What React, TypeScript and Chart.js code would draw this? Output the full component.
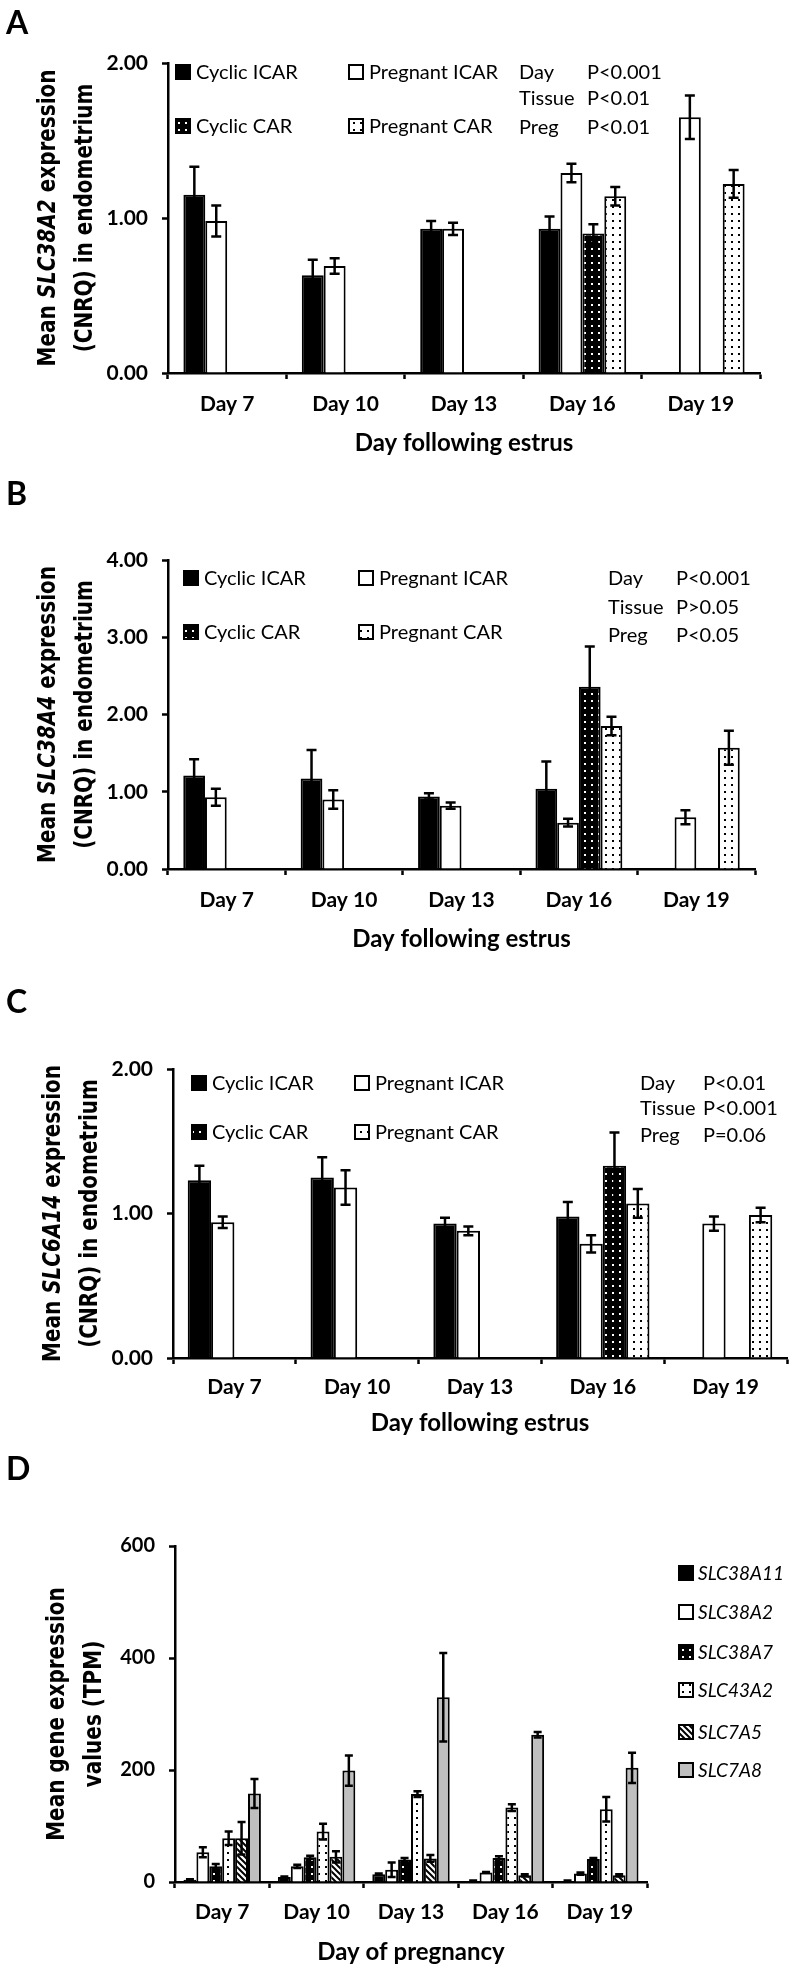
import React, { useEffect, useRef } from "react";
import { Chart, registerables } from "chart.js";
Chart.register(...registerables);

// ---------------- data ----------------
const days = ["Day 7", "Day 10", "Day 13", "Day 16", "Day 19"];
const groupLabels = ["Cyclic ICAR", "Pregnant ICAR", "Cyclic CAR", "Pregnant CAR"];
const statLabels = ["Day", "Tissue", "Preg"];

// Panel A: SLC38A2
const aCyclicICAR = [1.15, 0.63, 0.93, 0.93, null];
const aCyclicICARErr = [0.18, 0.1, 0.05, 0.08, null];
const aPregICAR = [0.98, 0.69, 0.93, 1.29, 1.65];
const aPregICARErr = [0.1, 0.05, 0.04, 0.06, 0.14];
const aCyclicCAR = [null, null, null, 0.9, null];
const aCyclicCARErr = [null, null, null, 0.06, null];
const aPregCAR = [null, null, null, 1.14, 1.22];
const aPregCARErr = [null, null, null, 0.06, 0.09];
const aStats = ["P<0.001", "P<0.01", "P<0.01"];
const aTicks = [0, 1, 2];

// Panel B: SLC38A4
const bCyclicICAR = [1.21, 1.17, 0.94, 1.04, null];
const bCyclicICARErr = [0.21, 0.37, 0.04, 0.35, null];
const bPregICAR = [0.93, 0.9, 0.82, 0.6, 0.67];
const bPregICARErr = [0.11, 0.12, 0.04, 0.05, 0.09];
const bCyclicCAR = [null, null, null, 2.36, null];
const bCyclicCARErr = [null, null, null, 0.52, null];
const bPregCAR = [null, null, null, 1.85, 1.57];
const bPregCARErr = [null, null, null, 0.12, 0.22];
const bStats = ["P<0.001", "P>0.05", "P<0.05"];
const bTicks = [0, 1, 2, 3, 4];

// Panel C: SLC6A14
const cCyclicICAR = [1.23, 1.25, 0.93, 0.98, null];
const cCyclicICARErr = [0.1, 0.14, 0.04, 0.1, null];
const cPregICAR = [0.94, 1.18, 0.88, 0.79, 0.93];
const cPregICARErr = [0.04, 0.12, 0.03, 0.06, 0.05];
const cCyclicCAR = [null, null, null, 1.33, null];
const cCyclicCARErr = [null, null, null, 0.23, null];
const cPregCAR = [null, null, null, 1.07, 0.99];
const cPregCARErr = [null, null, null, 0.1, 0.05];
const cStats = ["P<0.01", "P<0.001", "P=0.06"];
const cTicks = [0, 1, 2];

// Panel D: TPM
const dGenes = ["SLC38A11", "SLC38A2", "SLC38A7", "SLC43A2", "SLC7A5", "SLC7A8"];
const dSLC38A11 = [4, 9, 14, 2, 2];
const dSLC38A11Err = [1, 1, 1, 0.5, 0.5];
const dSLC38A2 = [53, 28, 22, 17, 15];
const dSLC38A2Err = [9, 3, 13, 1, 2];
const dSLC38A7 = [28, 44, 40, 43, 41];
const dSLC38A7Err = [4, 3, 3, 3, 2];
const dSLC43A2 = [78, 90, 157, 133, 130];
const dSLC43A2Err = [12, 14, 5, 6, 22];
const dSLC7A5 = [78, 45, 42, 12, 12];
const dSLC7A5Err = [29, 10, 6, 2, 2];
const dSLC7A8 = [158, 199, 330, 263, 204];
const dSLC7A8Err = [26, 27, 79, 5, 27];
const dTicks = [0, 200, 400, 600];

// ---------------- layout ----------------
const W = 793;
const FONT = "Lato";
const TITLE_FONT = '"DejaVu Sans"';

type Panel = {
  letter: string;
  letterY: number;
  top: number;
  height: number;
  area: { left: number; right: number; top: number; bottom: number };
  ticks: number[];
  decimals: number;
  values: (number | null)[][];
  errors: (number | null)[][];
  labels: string[];
  fills: string[];
  catPct: number;
  cap: number;
  yTitle1: { t: string; i: boolean }[];
  yTitle2: string;
  yTitleX: [number, number];
  xTitle: string;
  xTitleY: number;
  xLabelPad: number;
  legendGrid?: { cols: number[]; rows: number[] };
  legendList?: { x: number; rows: number[] };
  stats?: { texts: string[]; cols: number[]; rows: number[] };
};

const panels: Panel[] = [
  {
    letter: "A", letterY: 8, top: 0, height: 480,
    area: { left: 168, right: 760, top: 63, bottom: 373 },
    ticks: aTicks, decimals: 2,
    values: [aCyclicICAR, aPregICAR, aCyclicCAR, aPregCAR],
    errors: [aCyclicICARErr, aPregICARErr, aCyclicCARErr, aPregCARErr],
    labels: groupLabels, fills: ["black", "white", "dotsBlack", "dotsWhite"],
    catPct: 0.74, cap: 10,
    yTitle1: [{ t: "Mean ", i: false }, { t: "SLC38A2", i: true }, { t: " expression", i: false }],
    yTitle2: "(CNRQ) in endometrium", yTitleX: [55, 92],
    xTitle: "Day following estrus", xTitleY: 443, xLabelPad: 13,
    legendGrid: { cols: [175, 348], rows: [72, 126] },
    stats: { texts: aStats, cols: [519, 587], rows: [72, 98, 127] },
  },
  {
    letter: "B", letterY: -1, top: 480, height: 480,
    area: { left: 168, right: 755, top: 80, bottom: 389 },
    ticks: bTicks, decimals: 2,
    values: [bCyclicICAR, bPregICAR, bCyclicCAR, bPregCAR],
    errors: [bCyclicICARErr, bPregICARErr, bCyclicCARErr, bPregCARErr],
    labels: groupLabels, fills: ["black", "white", "dotsBlack", "dotsWhite"],
    catPct: 0.74, cap: 10,
    yTitle1: [{ t: "Mean ", i: false }, { t: "SLC38A4", i: true }, { t: " expression", i: false }],
    yTitle2: "(CNRQ) in endometrium", yTitleX: [55, 92],
    xTitle: "Day following estrus", xTitleY: 459, xLabelPad: 13,
    legendGrid: { cols: [183, 358], rows: [98, 152] },
    stats: { texts: bStats, cols: [608, 676], rows: [98, 127, 155] },
  },
  {
    letter: "C", letterY: 27, top: 960, height: 490,
    area: { left: 173, right: 787, top: 109, bottom: 398 },
    ticks: cTicks, decimals: 2,
    values: [cCyclicICAR, cPregICAR, cCyclicCAR, cPregCAR],
    errors: [cCyclicICARErr, cPregICARErr, cCyclicCARErr, cPregCARErr],
    labels: groupLabels, fills: ["black", "white", "dotsBlack", "dotsWhite"],
    catPct: 0.76, cap: 10,
    yTitle1: [{ t: "Mean ", i: false }, { t: "SLC6A14", i: true }, { t: " expression", i: false }],
    yTitle2: "(CNRQ) in endometrium", yTitleX: [60, 97],
    xTitle: "Day following estrus", xTitleY: 463, xLabelPad: 11,
    legendGrid: { cols: [191, 354], rows: [123, 172] },
    stats: { texts: cStats, cols: [640, 703], rows: [123, 148, 175] },
  },
  {
    letter: "D", letterY: 4, top: 1450, height: 520,
    area: { left: 175, right: 647, top: 96, bottom: 432 },
    ticks: dTicks, decimals: 0,
    values: [dSLC38A11, dSLC38A2, dSLC38A7, dSLC43A2, dSLC7A5, dSLC7A8],
    errors: [dSLC38A11Err, dSLC38A2Err, dSLC38A7Err, dSLC43A2Err, dSLC7A5Err, dSLC7A8Err],
    labels: dGenes, fills: ["black", "white", "dotsBlack", "dotsWhite", "stripes", "gray"],
    catPct: 0.82, cap: 8,
    yTitle1: [{ t: "Mean gene expression", i: false }],
    yTitle2: "values (TPM)", yTitleX: [64, 101],
    xTitle: "Day of pregnancy", xTitleY: 502, xLabelPad: 12,
    legendList: { x: 678, rows: [123, 162, 202, 240, 282, 320] },
  },
];

function makeFill(ctx: CanvasRenderingContext2D, kind: string): any {
  if (kind === "black") return "#000";
  if (kind === "white") return "#fff";
  if (kind === "gray") return "#bfbfbf";
  const c = document.createElement("canvas");
  const t = c.getContext("2d")!;
  if (kind === "dotsBlack" || kind === "dotsWhite") {
    c.width = 7; c.height = 7;
    t.fillStyle = kind === "dotsBlack" ? "#000" : "#fff";
    t.fillRect(0, 0, 7, 7);
    t.fillStyle = kind === "dotsBlack" ? "#fff" : "#000";
    t.fillRect(3, 3, 2, 2);
  } else if (kind === "stripes") {
    c.width = 6; c.height = 6;
    t.fillStyle = "#fff";
    t.fillRect(0, 0, 6, 6);
    t.strokeStyle = "#000";
    t.lineWidth = 2;
    t.beginPath();
    t.moveTo(-6, 0); t.lineTo(6, 12);
    t.moveTo(0, 0); t.lineTo(6, 6);
    t.moveTo(0, -6); t.lineTo(12, 6);
    t.stroke();
  }
  return ctx.createPattern(c, "repeat");
}

const errorBarPlugin = {
  id: "errorBars",
  afterDatasetsDraw(chart: any, _args: any, opts: any) {
    const { ctx } = chart;
    const ys = chart.scales.y;
    ctx.save();
    ctx.strokeStyle = "#000";
    ctx.lineWidth = 2.5;
    chart.data.datasets.forEach((ds: any, i: number) => {
      const meta = chart.getDatasetMeta(i);
      meta.data.forEach((el: any, j: number) => {
        const v = ds.data[j];
        const e = opts.errors[i][j];
        if (v == null || e == null) return;
        const x = el.x;
        const yt = ys.getPixelForValue(v + e);
        const yb = ys.getPixelForValue(Math.max(0, v - e));
        const h = opts.cap / 2;
        ctx.beginPath();
        ctx.moveTo(x, yt); ctx.lineTo(x, yb);
        ctx.moveTo(x - h, yt); ctx.lineTo(x + h, yt);
        ctx.moveTo(x - h, yb); ctx.lineTo(x + h, yb);
        ctx.stroke();
      });
    });
    ctx.restore();
  },
};

function drawSwatch(ctx: CanvasRenderingContext2D, fill: any, x: number, cy: number) {
  ctx.fillStyle = fill;
  ctx.fillRect(x, cy - 8, 16, 16);
  ctx.strokeStyle = "#000";
  ctx.lineWidth = 2;
  ctx.strokeRect(x + 1, cy - 7, 14, 14);
}

const decorPlugin = {
  id: "decor",
  afterDraw(chart: any, _args: any, opts: any) {
    const p: Panel = opts.panel;
    const { ctx, chartArea } = chart;
    ctx.save();
    ctx.fillStyle = "#000";
    // panel letter
    ctx.font = `bold 32px ${FONT}`;
    ctx.textAlign = "left";
    ctx.textBaseline = "top";
    ctx.fillText(p.letter, 6, p.letterY);
    // y title (two rotated lines, baseline positions given)
    const cy = (chartArea.top + chartArea.bottom) / 2;
    const SQ = 0.8;
    const drawRot = (x: number, pieces: { t: string; i: boolean }[]) => {
      ctx.save();
      ctx.translate(x, cy);
      ctx.rotate(-Math.PI / 2);
      ctx.scale(SQ, 1);
      ctx.textBaseline = "alphabetic";
      ctx.textAlign = "left";
      let total = 0;
      const ws = pieces.map((pc) => {
        ctx.font = `${pc.i ? "italic " : ""}bold 25px ${TITLE_FONT}`;
        const w = ctx.measureText(pc.t).width;
        total += w;
        return w;
      });
      let xx = -total / 2;
      pieces.forEach((pc, k) => {
        ctx.font = `${pc.i ? "italic " : ""}bold 25px ${TITLE_FONT}`;
        ctx.fillText(pc.t, xx, 0);
        xx += ws[k];
      });
      ctx.restore();
    };
    drawRot(p.yTitleX[0], p.yTitle1);
    drawRot(p.yTitleX[1], [{ t: p.yTitle2, i: false }]);
    // x title
    ctx.font = `bold 24px ${FONT}`;
    ctx.textAlign = "center";
    ctx.textBaseline = "middle";
    ctx.fillText(p.xTitle, (chartArea.left + chartArea.right) / 2, p.xTitleY);
    // legend
    const dsets = chart.data.datasets;
    ctx.textAlign = "left";
    ctx.textBaseline = "middle";
    if (p.legendGrid) {
      dsets.forEach((ds: any, i: number) => {
        const bx = p.legendGrid!.cols[i % 2];
        const ry = p.legendGrid!.rows[Math.floor(i / 2)];
        drawSwatch(ctx, ds.backgroundColor, bx, ry);
        ctx.fillStyle = "#000";
        ctx.font = `20px ${FONT}`;
        ctx.fillText(ds.label, bx + 21, ry + 1);
      });
    }
    if (p.legendList) {
      dsets.forEach((ds: any, i: number) => {
        const ry = p.legendList!.rows[i];
        drawSwatch(ctx, ds.backgroundColor, p.legendList!.x, ry);
        ctx.fillStyle = "#000";
        ctx.font = `italic 19px ${FONT}`;
        ctx.fillText(ds.label, p.legendList!.x + 20, ry + 1);
      });
    }
    if (p.stats) {
      ctx.fillStyle = "#000";
      ctx.font = `20px ${FONT}`;
      p.stats.texts.forEach((t, k) => {
        ctx.fillText(statLabels[k], p.stats!.cols[0], p.stats!.rows[k] + 1);
        ctx.fillText(t, p.stats!.cols[1], p.stats!.rows[k] + 1);
      });
    }
    ctx.restore();
  },
};

function PanelChart({ panel }: { panel: Panel }) {
  const ref = useRef<HTMLCanvasElement | null>(null);
  useEffect(() => {
    const canvas = ref.current!;
    const ctx = canvas.getContext("2d")!;
    const a = panel.area;
    const yMax = panel.ticks[panel.ticks.length - 1];
    const step = panel.ticks[1] - panel.ticks[0];
    const chart = new Chart(canvas, {
      type: "bar",
      data: {
        labels: days,
        datasets: panel.values.map((vals, i) => ({
          label: panel.labels[i],
          data: vals as any,
          backgroundColor: makeFill(ctx, panel.fills[i]),
          borderColor: "#000",
          borderWidth: 2,
          categoryPercentage: panel.catPct,
          barPercentage: 1,
        })),
      },
      options: {
        responsive: false,
        animation: false,
        devicePixelRatio: 1,
        layout: { padding: { left: 0, right: W - a.right, top: a.top, bottom: 0 } },
        plugins: {
          legend: { display: false },
          tooltip: { enabled: false },
          errorBars: { errors: panel.errors, cap: panel.cap },
          decor: { panel },
        } as any,
        scales: {
          x: {
            type: "category",
            offset: true,
            grid: {
              display: true,
              drawOnChartArea: false,
              drawTicks: true,
              tickLength: 6,
              tickWidth: 2.5,
              tickColor: "#000",
              offset: true,
            },
            border: { display: true, color: "#000", width: 2.5 },
            ticks: {
              color: "#000",
              font: { family: FONT, weight: "bold", size: 21 },
              padding: panel.xLabelPad,
              maxRotation: 0,
              autoSkip: false,
            },
            afterFit: (s: any) => {
              s.height = panel.height - a.bottom;
            },
          },
          y: {
            min: 0,
            max: yMax,
            grid: {
              display: true,
              drawOnChartArea: false,
              drawTicks: true,
              tickLength: 6,
              tickWidth: 2.5,
              tickColor: "#000",
            },
            border: { display: true, color: "#000", width: 2.5 },
            ticks: {
              stepSize: step,
              color: "#000",
              font: { family: FONT, weight: "bold", size: panel.decimals ? 21 : 20 },
              padding: 14,
              callback: (v: any) => Number(v).toFixed(panel.decimals),
            },
            afterFit: (s: any) => {
              s.width = a.left;
            },
          },
        },
      },
      plugins: [errorBarPlugin, decorPlugin],
    } as any);
    return () => chart.destroy();
  }, [panel]);
  return (
    <canvas
      ref={ref}
      width={W}
      height={panel.height}
      style={{ position: "absolute", left: 0, top: panel.top, width: W, height: panel.height }}
    />
  );
}

export default function App() {
  return (
    <div style={{ position: "absolute", left: 0, top: 0, width: W, height: 1970, background: "#fff" }}>
      {panels.map((p) => (
        <PanelChart key={p.letter} panel={p} />
      ))}
    </div>
  );
}
